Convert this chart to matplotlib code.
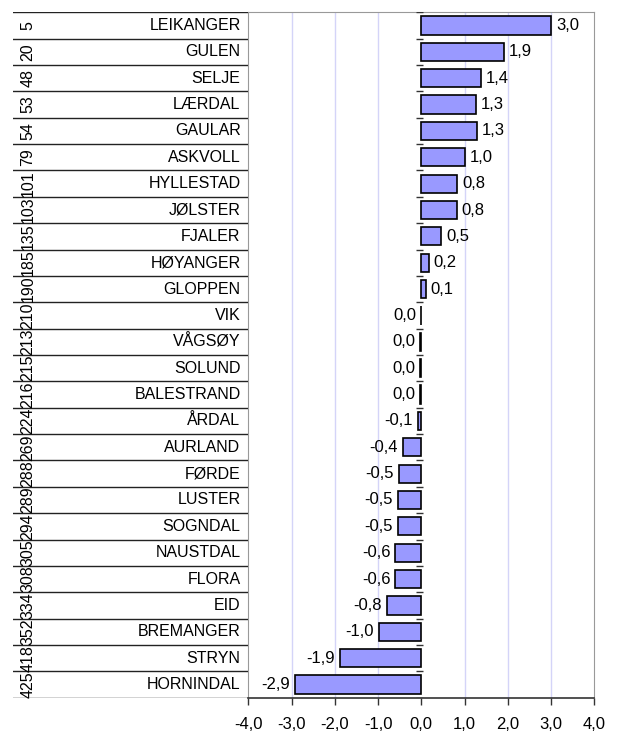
import numpy as np
import matplotlib.pyplot as plt
from matplotlib import transforms

plt.rcParams['font.family'] = ['Liberation Sans', 'DejaVu Sans']

ranks = [5, 20, 48, 53, 54, 79, 101, 103, 135, 185, 190, 210, 213, 215, 216,
         224, 269, 288, 289, 294, 305, 308, 334, 352, 418, 425]
names = ['LEIKANGER', 'GULEN', 'SELJE', 'LÆRDAL', 'GAULAR', 'ASKVOLL',
         'HYLLESTAD', 'JØLSTER', 'FJALER', 'HØYANGER', 'GLOPPEN', 'VIK',
         'VÅGSØY', 'SOLUND', 'BALESTRAND', 'ÅRDAL', 'AURLAND', 'FØRDE',
         'LUSTER', 'SOGNDAL', 'NAUSTDAL', 'FLORA', 'EID', 'BREMANGER',
         'STRYN', 'HORNINDAL']
values = [3.0, 1.91, 1.37, 1.27, 1.28, 1.0, 0.83, 0.82, 0.46, 0.17, 0.1, 0.0,
          -0.03, -0.03, -0.03, -0.08, -0.42, -0.52, -0.54, -0.54, -0.6, -0.6,
          -0.8, -0.98, -1.88, -2.92]
xticks = [-4, -3, -2, -1, 0, 1, 2, 3, 4]


def fmt(v):
    s = f"{v:.1f}"
    if s == "-0.0":
        s = "0.0"
    return s.replace('.', ',')


W, H = 620, 733
fig = plt.figure(figsize=(W / 100, H / 100), dpi=100)
bottom = 1 - 697.7 / H
top = 1 - 12.3 / H
ax = fig.add_axes([248.3 / W, bottom, (594.3 - 248.3) / W, top - bottom])
tab = fig.add_axes([12.7 / W, bottom, (248.3 - 12.7) / W, top - bottom], sharey=ax)

n = len(names)
y = np.arange(n)

ax.barh(y, values, height=0.69, color='#9999ff', edgecolor='black',
        linewidth=1.2, zorder=3)
ax.set_xlim(-4, 4)
ax.set_ylim(n - 0.5, -0.5)
ax.set_xticks(xticks)
ax.set_xticklabels([fmt(t) for t in xticks], fontsize=12)
ax.tick_params(axis='x', length=5, width=1, pad=9, color='#333333')
ax.tick_params(axis='y', left=False, labelleft=False)
for t in xticks[1:-1]:
    if t != 0:
        ax.axvline(t, color='#d4d4f8', linewidth=1, zorder=1)
for s in ['top', 'right', 'left']:
    ax.spines[s].set_color('#999999')
ax.spines['bottom'].set_color('#333333')
ax.spines['bottom'].set_linewidth(1.2)

# little ticks on the zero axis
ax.hlines(np.arange(n + 1) - 0.5, -0.13, 0.03, color='#333333',
          linewidth=1, zorder=4)

off = transforms.offset_copy
for i, v in enumerate(values):
    if v > 0:
        tr = off(ax.transData, fig=fig, x=5, y=0, units='dots')
        ax.text(v, i, fmt(v), ha='left', va='center', fontsize=12, transform=tr)
    else:
        tr = off(ax.transData, fig=fig, x=-5, y=0, units='dots')
        ax.text(v, i, fmt(v), ha='right', va='center', fontsize=12, transform=tr)

# table on the left
tab.set_xlim(0, 1)
tab.axis('off')
for b in np.arange(n + 1) - 0.5:
    tab.axhline(b, color='#222222', linewidth=1)
for i in range(n):
    tab.text(0.065, i, str(ranks[i]), rotation=90, ha='center', va='center',
             fontsize=11.5)
    tab.text(0.967, i, names[i], ha='right', va='center', fontsize=11.5)

fig.savefig('out.png', dpi=100)
